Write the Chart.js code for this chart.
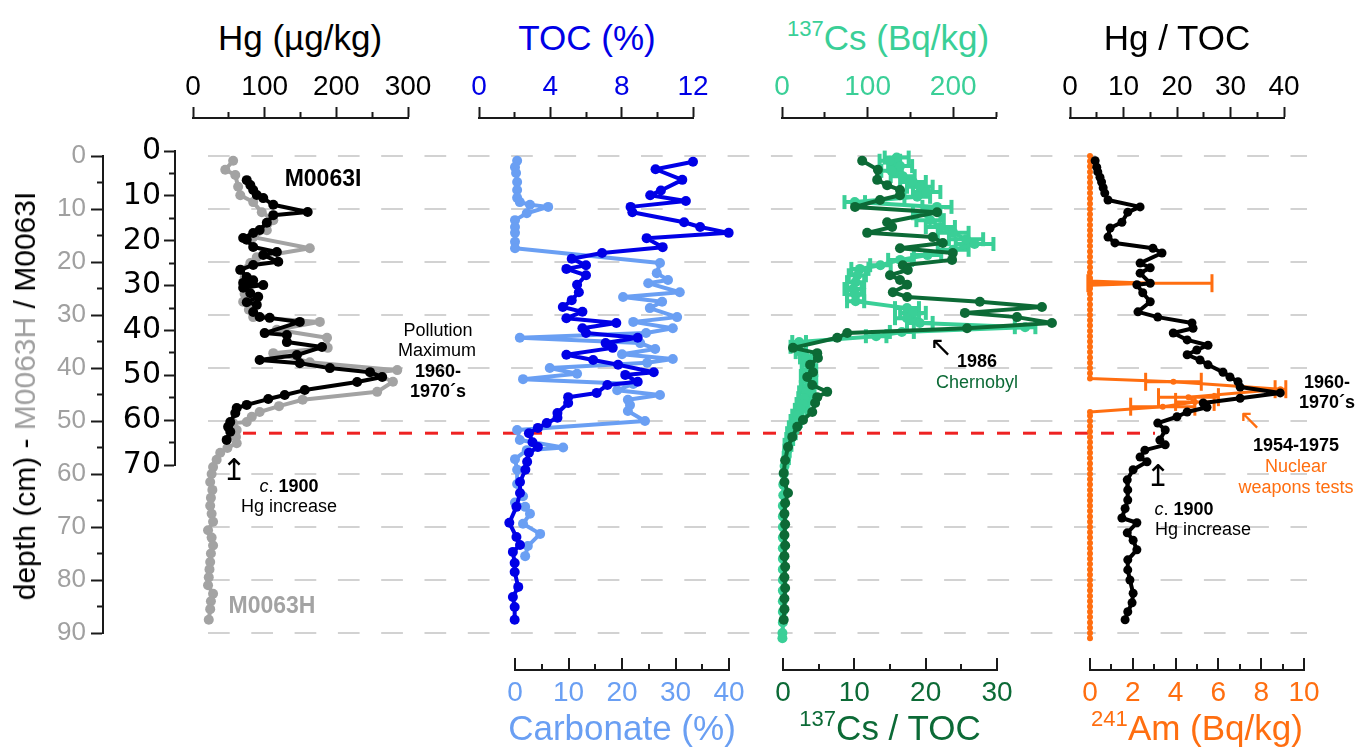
<!DOCTYPE html>
<html>
<head>
<meta charset="utf-8">
<title>Hg, TOC, 137Cs and 241Am depth profiles</title>
<script src="https://cdn.jsdelivr.net/npm/chart.js@4.4.1/dist/chart.umd.min.js"></script>
<style>
  html, body { margin: 0; background: #fff; }
  #page { position: relative; width: 1356px; height: 748px; overflow: hidden;
          font-family: 'Liberation Sans', Arial, sans-serif; }
  #page canvas { position: absolute; }
  .lbl { position: absolute; transform: translate(-50%, -50%); white-space: nowrap; line-height: 1; }
  .arrow { font-family: 'DejaVu Sans', sans-serif; }
</style>
</head>
<body>
<div id="page"></div>
<script>
// ---- values ----
// Hg in core M0063I (black, right-hand depth axis)
const hgIDepth = [6.5, 7.6, 8.7, 9.8, 10.5, 12.0, 13.6, 14.3, 16.0, 17.6,
  18.3, 19.4, 19.8, 21.4, 22.5, 23.2, 24.7, 25.4, 26.5, 28.1,
  28.8, 29.4, 29.9, 30.5, 31.7, 32.5, 33.7, 34.3, 35.9, 37.0,
  37.2, 38.1, 40.6, 41.0, 42.6, 43.7, 45.5, 46.6, 47.3, 48.4,
  49.3, 50.4, 51.5, 53.3, 54.4, 55.3, 56.6, 57.3, 58.4, 60.4,
  61.5, 62.6, 64.4];
const hgIValue = [75, 80, 84, 89, 98, 112, 160, 112, 103, 93,
  84, 70, 75, 84, 117, 98, 119, 84, 66, 75,
  84, 70, 98, 70, 80, 91, 75, 89, 84, 93,
  107, 149, 100, 131, 131, 180, 145, 93, 149, 191,
  247, 264, 229, 156, 128, 105, 75, 61, 59, 52,
  49, 52, 47];

// Hg in core M0063H (grey, left-hand depth axis)
const hgHDepth = [0.9, 2.6, 3.6, 5.8, 7.4, 8.7, 10.6, 12.1, 14.0, 15.3,
  17.4, 19.1, 20.2, 21.5, 23.0, 24.7, 26.0, 27.5, 29.0, 30.4,
  31.3, 32.8, 34.3, 36.2, 37.2, 38.9, 40.4, 40.9, 42.6, 44.5,
  46.0, 47.2, 48.3, 49.2, 50.2, 50.4, 51.7, 53.0, 54.2, 55.1,
  56.0, 57.3, 58.7, 60.0, 61.5, 63.0, 64.5, 66.0, 67.5, 69.0,
  70.6, 72.0, 73.5, 75.0, 76.6, 78.0, 79.5, 81.0, 82.6, 84.0,
  85.5, 87.5];
const hgHValue = [56, 45, 59, 63, 66, 84, 96, 112, 103, 84,
  163, 89, 80, 66, 72, 75, 72, 70, 78, 84,
  177, 117, 187, 188, 112, 163, 285, 251, 279, 257,
  153, 120, 93, 82, 75, 56, 61, 60, 61, 48,
  38, 33, 28, 26, 24, 27, 25, 24, 26, 28,
  21, 26, 28, 25, 24, 23, 22, 21, 28, 25,
  24, 22];

// TOC (%)
const tocDepth = [1.1, 2.5, 4.5, 6.5, 7.4, 8.5, 9.6, 10.6, 12.5, 13.4,
  14.5, 15.5, 17.2, 18.3, 19.4, 20.6, 21.3, 22.5, 24.3, 25.7,
  27.2, 28.5, 29.4, 30.6, 31.5, 32.5, 33.4, 34.3, 35.3, 36.2,
  37.5, 38.5, 39.4, 40.8, 41.3, 42.6, 43.2, 44.7, 45.5, 46.6,
  48.5, 49.4, 50.4, 51.3, 52.3, 54.0, 54.9, 56.0, 57.7, 59.2,
  61.5, 63.6, 66.2, 69.2, 71.9, 73.4, 74.7, 76.8, 78.5, 81.3,
  83.2, 85.1, 87.5];
const tocValue = [12.0, 9.9, 11.4, 10.2, 9.6, 11.6, 8.5, 8.6, 11.5, 12.4,
  14.0, 9.4, 10.3, 6.9, 5.2, 6.0, 4.9, 6.0, 5.5, 5.6,
  5.2, 4.7, 5.8, 4.9, 7.7, 5.8, 6.0, 8.9, 7.1, 7.5,
  4.9, 6.4, 7.8, 9.8, 8.2, 8.9, 7.2, 6.6, 5.0, 5.0,
  4.4, 4.4, 3.8, 3.3, 2.8, 3.0, 3.3, 2.8, 2.7, 2.6,
  2.3, 2.3, 2.1, 1.7, 2.1, 2.3, 1.9, 2.0, 2.0, 2.2,
  1.9, 2.0, 2.0];

// Carbonate (%)
const carbDepth = [0.9, 2.1, 3.2, 4.9, 6.4, 7.9, 8.7, 9.2, 9.6, 10.8,
  12.1, 13.4, 14.5, 16.2, 17.4, 20.2, 22.1, 23.4, 24.0, 25.7,
  26.6, 27.5, 28.7, 30.4, 31.3, 32.5, 33.4, 34.3, 35.3, 36.4,
  37.4, 38.3, 39.0, 40.0, 41.1, 42.1, 43.0, 44.2, 45.1, 46.0,
  47.0, 48.1, 50.0, 51.7, 53.6, 55.0, 55.5, 57.2, 59.2, 61.9,
  64.2, 65.4, 66.2, 67.5, 69.4, 71.3, 73.6, 75.5];
const carbValue = [0.4, 0, 0.2, 0.4, 0.4, 0.4, 0.9, 2.8, 6.2, 2.2,
  0, 0, 0, 0, 0, 27.1, 26.5, 28.6, 24.9, 30.8,
  20.2, 27.5, 25.2, 30.3, 22.1, 29.5, 24.5, 0.9, 23.4, 26.2,
  20.0, 29.5, 24.7, 6.5, 11.6, 1.5, 22.1, 19.1, 27.1, 21.1,
  21.5, 21.1, 24.3, 0.4, 0.9, 9.0, 2.2, 0, 0.4, 0.4,
  1.5, 0, 1.9, 2.8, 1.5, 4.7, 2.4, 1.9];

// 137Cs (Bq/kg) with its error
const csDepth = [0.3, 0.9, 1.9, 2.8, 3.8, 4.9, 5.8, 6.8, 7.7, 8.7,
  9.6, 10.8, 12.1, 13.4, 14.5, 15.7, 16.6, 17.7, 18.7, 19.6,
  20.6, 21.3, 22.5, 23.8, 25.1, 26.2, 27.4, 28.7, 29.6, 30.6,
  31.5, 32.3, 33.2, 34.0, 35.1, 36.0, 37.0, 38.0, 39.2, 40.4,
  41.5, 42.5, 43.6, 44.6, 45.7, 46.8, 47.9, 49.0, 50.0, 51.2,
  52.3, 53.4, 54.5, 55.6, 57.0, 58.5, 60.0, 62.0, 64.0, 66.0,
  68.0, 70.0, 72.0, 74.0, 76.0, 78.0, 80.0, 82.0, 84.0, 86.0,
  88.0, 90.0, 91.0];
const csValue = [134, 126, 138, 128, 141, 153, 161, 169, 158, 85,
  181, 169, 173, 185, 200, 215, 225, 200, 170, 138,
  115, 91, 88, 86, 83, 86, 86, 146, 153, 146,
  161, 284, 140, 110, 20, 16, 22, 28, 30, 32,
  30, 32, 30, 28, 26, 24, 22, 18, 16, 13,
  11, 9, 7, 6, 5, 3, 2, 1.5, 1.5, 1,
  1, 1, 1, 1, 1, 1, 1, 1, 1, 1,
  1, 0.5, 0.5];
const csErr = [14, 12, 14, 12, 14, 15, 15, 16, 15, 12,
  17, 16, 16, 17, 18, 20, 22, 18, 16, 14,
  12, 10, 10, 10, 10, 10, 10, 14, 15, 14,
  15, 12, 14, 12, 8, 6, 6, 7, 7, 8,
  8, 8, 8, 8, 7, 7, 7, 6, 6, 5,
  5, 4, 4, 3, 3, 2, 0, 0, 0, 0,
  0, 0, 0, 0, 0, 0, 0, 0, 0, 0,
  0, 0, 0];

// 137Cs / TOC
const csTocDepth = [0.9, 2.6, 4.5, 5.5, 6.4, 7.4, 8.3, 9.6, 10.6, 12.5,
  13.4, 14.5, 15.3, 16.4, 17.4, 18.3, 19.6, 20.6, 21.5, 22.5,
  23.4, 24.3, 25.7, 26.6, 27.5, 28.5, 29.6, 30.4, 31.5, 32.5,
  33.4, 34.3, 36.2, 37.2, 38.1, 39.4, 40.8, 41.7, 43.2, 44.5,
  45.5, 46.6, 48.3, 49.8, 51.1, 53.0, 54.9, 57.4, 59.8, 61.5,
  63.6, 65.5, 67.5, 69.5, 71.5, 73.5, 75.5, 77.5, 79.5, 81.5,
  83.5, 85.5, 87.5];
const csTocValue = [11.1, 13.3, 13.2, 14.6, 16.4, 16.4, 13.6, 10.1, 21.6, 14.6,
  15.3, 11.8, 21.0, 22.4, 16.4, 23.8, 23.7, 16.8, 17.5, 15.0,
  16.4, 17.4, 15.4, 17.4, 27.6, 36.3, 25.5, 32.8, 37.7, 25.8,
  9.0, 7.6, 1.4, 4.8, 4.9, 3.8, 4.2, 3.4, 4.1, 6.2,
  4.8, 4.5, 4.1, 2.8, 2.0, 1.3, 0.7, 0.3, 0.1, 0.2,
  0.7, 0.3, 0.2, 0.3, 0.2, 0.3, 0.2, 0.3, 0.2, 0.3,
  0.2, 0.2, 0.1];

// Hg / TOC
const hgTocDepth = [0.9, 2.1, 3.0, 4.0, 4.9, 6.0, 7.0, 8.3, 9.6, 10.6,
  12.5, 13.6, 15.3, 16.4, 17.4, 18.3, 20.2, 21.1, 22.1, 24.0,
  24.3, 25.8, 27.5, 29.4, 30.4, 31.5, 32.5, 33.4, 34.7, 35.7,
  36.6, 37.5, 38.5, 39.4, 40.8, 41.7, 42.6, 43.6, 44.7, 45.7,
  46.6, 47.4, 48.3, 49.2, 50.4, 51.7, 53.6, 54.5, 55.5, 56.8,
  57.7, 59.2, 61.1, 63.0, 64.9, 66.5, 68.3, 69.2, 71.1, 72.5,
  74.3, 76.2, 78.1, 80.0, 82.5, 84.3, 86.0, 87.5];
const hgTocValue = [4.7, 5.0, 5.2, 5.6, 5.9, 6.2, 6.5, 7.1, 13.1, 10.8,
  9.7, 7.5, 7.1, 8.4, 15.5, 17.2, 13.1, 15.0, 13.1, 15.0,
  12.5, 13.6, 15.0, 12.7, 16.4, 22.8, 23.0, 19.3, 21.9, 25.8,
  23.7, 21.9, 24.3, 25.8, 28.6, 29.9, 31.4, 31.8, 39.3, 31.8,
  24.9, 25.6, 21.9, 20.0, 16.4, 17.8, 16.8, 17.8, 14.0, 13.1,
  14.4, 11.8, 10.7, 10.8, 10.8, 10.3, 9.7, 12.5, 10.7, 11.8,
  12.5, 10.8, 10.8, 11.2, 11.8, 11.6, 10.8, 10.3];

// 241Am (Bq/kg) with its error
const amDepth = [0, 1, 2, 3, 4, 5, 6, 7, 8, 9,
  10, 11, 12, 13, 14, 15, 16, 17, 18, 19,
  20, 21, 22, 23, 23.6, 24.0, 24.4, 25, 26, 27,
  28, 29, 30, 31, 32, 33, 34, 35, 36, 37,
  38, 39, 40, 41, 42, 42.6, 44.0, 45.5, 46.4, 47.3,
  48.3, 49, 50, 51, 52, 53, 54, 55, 56, 57,
  58, 59, 60, 61, 62, 63, 64, 65, 66, 67,
  68, 69, 70, 71, 72, 73, 74, 75, 76, 77,
  78, 79, 80, 81, 82, 83, 84, 85, 86, 87,
  88, 89, 90, 91];
const amValue = [0, 0, 0, 0, 0, 0, 0, 0, 0, 0,
  0, 0, 0, 0, 0, 0, 0, 0, 0, 0,
  0, 0, 0, 0, 0, 2.8, 0, 0, 0, 0,
  0, 0, 0, 0, 0, 0, 0, 0, 0, 0,
  0, 0, 0, 0, 0, 3.9, 8.9, 4.6, 4.9, 3.4,
  0, 0, 0, 0, 0, 0, 0, 0, 0, 0,
  0, 0, 0, 0, 0, 0, 0, 0, 0, 0,
  0, 0, 0, 0, 0, 0, 0, 0, 0, 0,
  0, 0, 0, 0, 0, 0, 0, 0, 0, 0,
  0, 0, 0, 0];
const amErr = [0, 0, 0, 0, 0, 0, 0, 0, 0, 0,
  0, 0, 0, 0, 0, 0, 0, 0, 0, 0,
  0, 0, 0, 0, 0, 2.9, 0, 0, 0, 0,
  0, 0, 0, 0, 0, 0, 0, 0, 0, 0,
  0, 0, 0, 0, 0, 1.3, 0.25, 1.4, 0.9, 1.5,
  0, 0, 0, 0, 0, 0, 0, 0, 0, 0,
  0, 0, 0, 0, 0, 0, 0, 0, 0, 0,
  0, 0, 0, 0, 0, 0, 0, 0, 0, 0,
  0, 0, 0, 0, 0, 0, 0, 0, 0, 0,
  0, 0, 0, 0];

// c. 1900 marker (M0063H depth, cm)
const c1900Depth = 52.3;

// tick labels
const depthHLabels = [0, 10, 20, 30, 40, 50, 60, 70, 80, 90];
const depthILabels = [0, 10, 20, 30, 40, 50, 60, 70];
const hgLabels = [0, 100, 200, 300];
const tocLabels = [0, 4, 8, 12];
const csLabels = [0, 100, 200];
const hgTocLabels = [0, 10, 20, 30, 40];
const carbLabels = [0, 10, 20, 30, 40];
const csTocLabels = [0, 10, 20, 30];
const amLabels = [0, 2, 4, 6, 8, 10];

// ---- layout ----
const INK = '#1a1a1a', GREY = '#a3a3a3', BLUE = '#0000e6', LBLUE = '#6a9ff3',
      LGREEN = '#3acf97', DGREEN = '#0c6a36', ORANGE = '#ff6e10', RED = '#ee2222';

const AX = {
  depthH: { top: 156, bottom: 633, min: 0, max: 90, x: 103 },
  depthI: { top: 151, bottom: 465, min: 0, max: 70, x: 175 },
  hg:     { left: 193,  right: 408,  min: 0, max: 300 },
  toc:    { left: 479,  right: 693,  min: 0, max: 12 },
  cs:     { left: 782,  right: 996,  min: 0, max: 250 },
  hgToc:  { left: 1070, right: 1284, min: 0, max: 40 },
  carb:   { left: 515,  right: 729,  min: 0, max: 40 },
  csToc:  { left: 783,  right: 997,  min: 0, max: 30 },
  am:     { left: 1090, right: 1304, min: 0, max: 10 }
};
const TOP_LINE = 118, BOTTOM_LINE = 670;

Chart.defaults.font.family = "'Liberation Sans', Arial, sans-serif";
const page = document.getElementById('page');

function mount(x, y, w, h) {
  const c = document.createElement('canvas');
  c.width = w; c.height = h;
  c.style.left = x + 'px'; c.style.top = y + 'px';
  page.appendChild(c);
  return c;
}

const base = {
  responsive: false, animation: false, events: [],
  plugins: { legend: { display: false }, tooltip: { enabled: false } }
};

const isMinor = (labels) => (c) => c.tick && !labels.includes(c.tick.value);

function topAxis(ax, step, labels, color) {
  const pad = 40;
  const cv = mount(ax.left - pad, TOP_LINE - 60, ax.right - ax.left + 2 * pad, 64);
  const minor = isMinor(labels);
  new Chart(cv, {
    type: 'line', data: { datasets: [] },
    options: { ...base,
      layout: { autoPadding: false, padding: { left: pad, right: pad, top: 0, bottom: 0 } },
      scales: {
        x: { type: 'linear', position: 'top', min: ax.min, max: ax.max,
          afterFit: s => { s.height = 60; },
          ticks: { stepSize: step, autoSkip: false, maxRotation: 0, color: color,
            font: { size: 28 }, padding: 3,
            callback: v => labels.includes(v) ? String(v) : '' },
          grid: { drawOnChartArea: false, tickLength: 11, tickWidth: 2, tickColor: INK,
            tickBorderDash: c => minor(c) ? [0, 5, 6, 40] : [] },
          border: { width: 2, color: INK } },
        y: { display: false }
      } }
  });
}

function bottomAxis(ax, step, labels, color) {
  const pad = 40;
  const cv = mount(ax.left - pad, BOTTOM_LINE - 14, ax.right - ax.left + 2 * pad, 64);
  const minor = isMinor(labels);
  new Chart(cv, {
    type: 'line', data: { datasets: [] },
    options: { ...base,
      layout: { autoPadding: false, padding: { left: pad, right: pad, top: 2, bottom: 0 } },
      scales: {
        x: { type: 'linear', position: 'bottom', min: ax.min, max: ax.max,
          afterFit: s => { s.height = 50; },
          ticks: { stepSize: step, autoSkip: false, maxRotation: 0, color: color,
            font: { size: 28 }, padding: 6,
            callback: v => labels.includes(v) ? String(v) : '' },
          grid: { drawOnChartArea: true, drawTicks: false, color: INK, lineWidth: 2 },
          border: { width: 2, color: INK, dash: c => minor(c) ? [0, 6, 30] : [] } },
        y: { display: false }
      } }
  });
}

function leftAxis(ax, labels, color, font, tl, padding, w, boxLeft) {
  const cv = mount(boxLeft, ax.top - 25, ax.x + 5 - boxLeft, ax.bottom - ax.top + 50);
  const minor = isMinor(labels);
  new Chart(cv, {
    type: 'line', data: { datasets: [] },
    options: { ...base,
      layout: { autoPadding: false, padding: { left: ax.x - boxLeft - w, right: 1, top: 25, bottom: 25 } },
      scales: {
        y: { type: 'linear', position: 'left', reverse: true, min: ax.min, max: ax.max,
          afterFit: s => { s.width = w; },
          ticks: { stepSize: 5, autoSkip: false, color: color, font: font, padding: padding,
            callback: v => labels.includes(v) ? String(v) : '' },
          grid: { drawOnChartArea: false, tickLength: tl, tickWidth: 2, tickColor: INK,
            tickBorderDash: c => minor(c) ? [0, tl - 6, 6, 40] : [] },
          border: { width: 2, color: INK } },
        x: { display: false }
      } }
  });
}

// value of an axis at a page pixel, so hidden data scales line up with the drawn axes
const atX = (ax, px) => ax.min + (px - ax.left) * (ax.max - ax.min) / (ax.right - ax.left);
const atY = (ax, py) => ax.min + (py - ax.top) * (ax.max - ax.min) / (ax.bottom - ax.top);

const pts = (depth, value) => depth.map((d, i) => ({ x: value[i], y: d }));
function errBars(depth, value, err) {
  const out = [];
  depth.forEach((d, i) => {
    if (err[i] > 0) out.push({ x: value[i] - err[i], y: d }, { x: value[i] + err[i], y: d }, { x: null, y: null });
  });
  return out;
}

function series(data, color, opts) {
  return Object.assign({ data: data, borderColor: color, backgroundColor: color,
    pointBackgroundColor: color, pointBorderWidth: 0, pointRadius: 5, borderWidth: 4,
    borderJoinStyle: 'round', borderCapStyle: 'round',
    tension: 0, clip: false, xAxisID: 'x', yAxisID: 'y' }, opts || {});
}
function errSeries(data, color, opts) {
  return Object.assign({ data: data, borderColor: color, borderWidth: 4,
    pointStyle: 'line', pointRotation: 90, pointRadius: 7, pointBorderWidth: 4,
    pointBorderColor: color, clip: false, xAxisID: 'xb', yAxisID: 'y' }, opts || {});
}

function panel(box, topAx, botAx, datasets) {
  const cv = mount(box.x, box.y, box.w, box.h);
  const hid = { type: 'linear', display: false };
  const scales = {
    x:  { ...hid, axis: 'x', min: atX(topAx, box.x), max: atX(topAx, box.x + box.w) },
    y:  { ...hid, axis: 'y', reverse: true, min: atY(AX.depthH, box.y), max: atY(AX.depthH, box.y + box.h) },
    yi: { ...hid, axis: 'y', reverse: true, min: atY(AX.depthI, box.y), max: atY(AX.depthI, box.y + box.h) }
  };
  if (botAx) scales.xb = { ...hid, axis: 'x', min: atX(botAx, box.x), max: atX(botAx, box.x + box.w) };
  new Chart(cv, { type: 'line', data: { datasets: datasets },
    options: { ...base, layout: { autoPadding: false, padding: 0 }, scales: scales } });
}

// ---- background: dashed depth grid and the c. 1900 line ----
(function () {
  const box = { x: 200, y: 140, w: 1120, h: 510 };
  const gl = 208, gr = 1307;
  const cv = mount(box.x, box.y, box.w, box.h);
  new Chart(cv, {
    type: 'line',
    data: { datasets: [{ data: [{ x: 243, y: c1900Depth }, { x: 1155, y: c1900Depth }],
      borderColor: RED, borderWidth: 3, borderDash: [13, 13], pointRadius: 0, clip: false }] },
    options: { ...base,
      layout: { autoPadding: false, padding: { left: gl - box.x, right: box.x + box.w - gr,
        top: AX.depthH.top - box.y, bottom: box.y + box.h - AX.depthH.bottom } },
      scales: {
        x: { type: 'linear', display: false, min: gl, max: gr },
        y: { type: 'linear', reverse: true, min: 0, max: 90,
          afterFit: s => { s.width = 0; },
          ticks: { display: false, stepSize: 10 },
          grid: { drawTicks: false, color: '#d2d2d2', lineWidth: 2 },
          border: { display: false, dash: [21.7, 21.6] } }
      } }
  });
})();

// ---- axes ----
leftAxis(AX.depthH, depthHLabels, '#a0a0a0', { size: 26 }, 12, 5, 60, 0);
leftAxis(AX.depthI, depthILabels, '#000', { size: 30, family: "'DejaVu Sans', sans-serif" }, 11, 3, 58, 110);
topAxis(AX.hg, 50, hgLabels, '#000');
topAxis(AX.toc, 2, tocLabels, BLUE);
topAxis(AX.cs, 50, csLabels, LGREEN);
topAxis(AX.hgToc, 5, hgTocLabels, '#000');
bottomAxis(AX.carb, 5, carbLabels, LBLUE);
bottomAxis(AX.csToc, 5, csTocLabels, DGREEN);
bottomAxis(AX.am, 1, amLabels, ORANGE);

// ---- data panels ----
const PY = 130, PH = 520;
panel({ x: 170, y: PY, w: 260, h: PH }, AX.hg, null, [
  series(pts(hgIDepth, hgIValue), '#000', { yAxisID: 'yi', order: 0 }),
  series(pts(hgHDepth, hgHValue), GREY, { order: 1 })
]);
panel({ x: 450, y: PY, w: 310, h: PH }, AX.toc, AX.carb, [
  series(pts(tocDepth, tocValue), BLUE, { order: 0 }),
  series(pts(carbDepth, carbValue), LBLUE, { xAxisID: 'xb', order: 1 })
]);
panel({ x: 760, y: PY, w: 310, h: PH }, AX.cs, AX.csToc, [
  series(pts(csTocDepth, csTocValue), DGREEN, { xAxisID: 'xb', order: 0 }),
  series(pts(csDepth, csValue), LGREEN, { order: 1 }),
  errSeries(errBars(csDepth, csValue, csErr), LGREEN, { xAxisID: 'x', order: 2 })
]);
panel({ x: 1060, y: PY, w: 260, h: PH }, AX.hgToc, AX.am, [
  series(pts(hgTocDepth, hgTocValue), '#000', { pointRadius: 4.5, order: 0 }),
  series(pts(amDepth, amValue), ORANGE, { xAxisID: 'xb', pointRadius: 3, borderWidth: 3, order: 1 }),
  errSeries(errBars(amDepth, amValue, amErr), ORANGE, { borderWidth: 3, pointBorderWidth: 3, pointRadius: 9, order: 2 })
]);

// ---- text ----
function label(html, x, y, css) {
  const d = document.createElement('div');
  d.className = 'lbl';
  d.innerHTML = html;
  d.style.left = x + 'px';
  d.style.top = y + 'px';
  Object.assign(d.style, css || {});
  page.appendChild(d);
  return d;
}
const sup = t => '<span style="font-size:0.63em;position:relative;top:-0.62em">' + t + '</span>';
const T = { fontSize: '35px' };
label('Hg (µg/kg)', 300, 37, T);
label('TOC (%)', 587, 37, { ...T, color: BLUE });
label(sup('137') + 'Cs (Bq/kg)', 888, 37, { ...T, color: LGREEN });
label('Hg / TOC', 1177, 37, T);
label('Carbonate (%)', 622, 727, { ...T, color: LBLUE });
label(sup('137') + 'Cs / TOC', 890, 727, { ...T, color: DGREEN });
label(sup('241') + 'Am (Bq/kg)', 1197, 727, { ...T, color: ORANGE });

label('depth (cm) - <span style="color:#a0a0a0">M0063H</span> / M0063I', 25, 396,
  { fontSize: '30px', transform: 'translate(-50%,-50%) rotate(-90deg)' });

const A = { fontSize: '18px' };
label('<b>M0063I</b>', 323, 178, { fontSize: '23px' });
label('<b>M0063H</b>', 272, 605, { fontSize: '23px', color: GREY });
label('Pollution', 438, 330, A);
label('Maximum', 437, 350, A);
label('<b>1960-</b>', 438, 371, A);
label('<b>1970´s</b>', 438, 391, A);
label('↥', 234, 470, { fontSize: '30px' }).classList.add('arrow');
label('<i>c</i>. <b>1900</b>', 289, 486, A);
label('Hg increase', 289, 506, A);

label('↖', 941, 347, { fontSize: '28px' }).classList.add('arrow');
label('<b>1986</b>', 977, 361, A);
label('Chernobyl', 977, 382, { ...A, color: DGREEN });

label('<b>1960-</b>', 1327, 382, A);
label('<b>1970´s</b>', 1327, 402, A);
label('↖', 1250, 420, { fontSize: '28px', color: ORANGE }).classList.add('arrow');
label('<b>1954-1975</b>', 1296, 445, A);
label('Nuclear', 1296, 466, { ...A, color: ORANGE });
label('weapons tests', 1296, 487, { ...A, color: ORANGE });
label('↥', 1158, 476, { fontSize: '30px' }).classList.add('arrow');
label('<i>c</i>. <b>1900</b>', 1184, 509, A);
label('Hg increase', 1203, 529, A);
</script>
</body>
</html>
